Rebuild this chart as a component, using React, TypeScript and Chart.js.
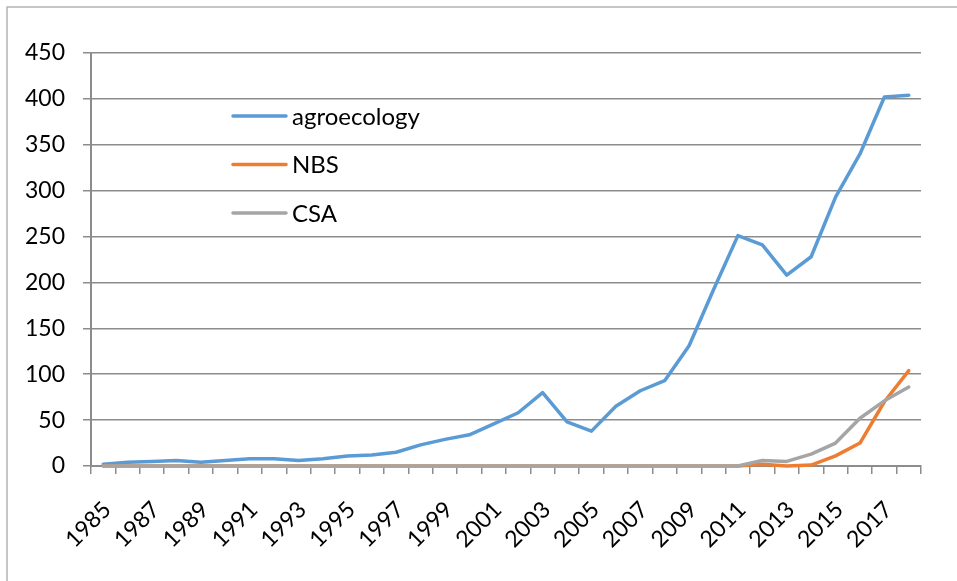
import React, { useEffect, useRef } from 'react';
import { Chart, registerables } from 'chart.js';

Chart.register(...registerables);

const years = [
  1985, 1986, 1987, 1988, 1989, 1990, 1991, 1992, 1993, 1994,
  1995, 1996, 1997, 1998, 1999, 2000, 2001, 2002, 2003, 2004,
  2005, 2006, 2007, 2008, 2009, 2010, 2011, 2012, 2013, 2014,
  2015, 2016, 2017, 2018,
];

const agroecology = [
  2, 4, 5, 6, 4, 6, 8, 8, 6, 8,
  11, 12, 15, 23, 29, 34, 46, 58, 80, 48,
  38, 65, 82, 93, 131, 192, 251, 241, 208, 228,
  293, 340, 402, 404,
];

const nbs = [
  0, 0, 0, 0, 0, 0, 0, 0, 0, 0,
  0, 0, 0, 0, 0, 0, 0, 0, 0, 0,
  0, 0, 0, 0, 0, 0, 0, 2, 0, 1,
  11, 25, 70, 104,
];

const csa = [
  0, 0, 0, 0, 0, 0, 0, 0, 0, 0,
  0, 0, 0, 0, 0, 0, 0, 0, 0, 0,
  0, 0, 0, 0, 0, 0, 0, 6, 5, 13,
  25, 52, 71, 86,
];

const seriesNames = ['agroecology', 'NBS', 'CSA'];
const seriesColors = ['#5b9bd5', '#ed7d31', '#a5a5a5'];

const yMin = 0;
const yMax = 450;
const yStep = 50;

const FONT = 'Lato, "Open Sans", sans-serif';

export default function App() {
  const ref = useRef<HTMLCanvasElement>(null);

  useEffect(() => {
    if (!ref.current) return;

    const framePlugin = {
      id: 'frame',
      beforeDraw(chart: any) {
        const ctx = chart.ctx;
        ctx.save();
        ctx.fillStyle = '#ffffff';
        ctx.fillRect(0, 0, chart.width, chart.height);
        ctx.strokeStyle = '#b4b4b4';
        ctx.lineWidth = 1.5;
        ctx.beginPath();
        ctx.moveTo(7, chart.height + 5);
        ctx.lineTo(7, 7);
        ctx.lineTo(chart.width + 5, 7);
        ctx.stroke();
        ctx.restore();
      },
    };

    const legendPlugin = {
      id: 'insideLegend',
      afterDatasetsDraw(chart: any) {
        const ctx = chart.ctx;
        ctx.save();
        const x0 = 233;
        const x1 = 286;
        const tx = 292;
        const y0 = 116;
        const gap = 48.5;
        ctx.font = `24px ${FONT}`;
        ctx.textBaseline = 'middle';
        ctx.textAlign = 'left';
        seriesNames.forEach((name, i) => {
          const y = y0 + i * gap;
          ctx.strokeStyle = seriesColors[i];
          ctx.lineWidth = 3.5;
          ctx.lineCap = 'round';
          ctx.beginPath();
          ctx.moveTo(x0, y);
          ctx.lineTo(x1, y);
          ctx.stroke();
          ctx.fillStyle = '#000000';
          ctx.fillText(name, tx, y + 1);
        });
        ctx.restore();
      },
    };

    const series = [agroecology, nbs, csa];

    const chart = new Chart(ref.current, {
      type: 'line',
      data: {
        labels: years.map(String),
        datasets: series.map((data, i) => ({
          label: seriesNames[i],
          data,
          borderColor: seriesColors[i],
          backgroundColor: seriesColors[i],
          borderWidth: 3.5,
          pointRadius: 0,
          tension: 0,
          fill: false,
          clip: 10,
          order: 3 - i,
          borderCapStyle: 'round',
          borderJoinStyle: 'round',
        })),
      },
      options: {
        responsive: false,
        animation: false,
        devicePixelRatio: 1,
        layout: { padding: { top: 53, right: 36, left: 0, bottom: 0 } },
        plugins: {
          legend: { display: false },
          tooltip: { enabled: false },
        },
        scales: {
          x: {
            type: 'category',
            offset: true,
            grid: {
              offset: true,
              drawOnChartArea: false,
              drawTicks: true,
              tickLength: 8,
              color: '#8c8c8c',
              lineWidth: 1.5,
            },
            border: { display: true, color: '#8c8c8c', width: 2 },
            ticks: {
              autoSkip: false,
              maxRotation: 45,
              minRotation: 45,
              padding: 22,
              labelOffset: 4,
              color: '#000000',
              font: { family: FONT, size: 23 },
              callback: (_v: any, i: number) => (i % 2 === 0 ? String(years[i]) : ''),
            },
            afterFit: (s: any) => {
              s.height = 115;
            },
          },
          y: {
            min: yMin,
            max: yMax,
            ticks: {
              stepSize: yStep,
              padding: 18,
              color: '#000000',
              font: { family: FONT, size: 23 },
            },
            grid: {
              color: '#8c8c8c',
              lineWidth: 1.5,
              tickLength: 8,
            },
            border: { display: true, color: '#8c8c8c', width: 2 },
            afterFit: (s: any) => {
              s.width = 91;
            },
          },
        },
      },
      plugins: [framePlugin, legendPlugin],
    } as any);

    return () => chart.destroy();
  }, []);

  return (
    <div style={{ position: 'fixed', left: 0, top: 0, width: 957, height: 581, background: '#fff' }}>
      <canvas ref={ref} width={957} height={581} style={{ display: 'block', width: 957, height: 581 }} />
    </div>
  );
}
